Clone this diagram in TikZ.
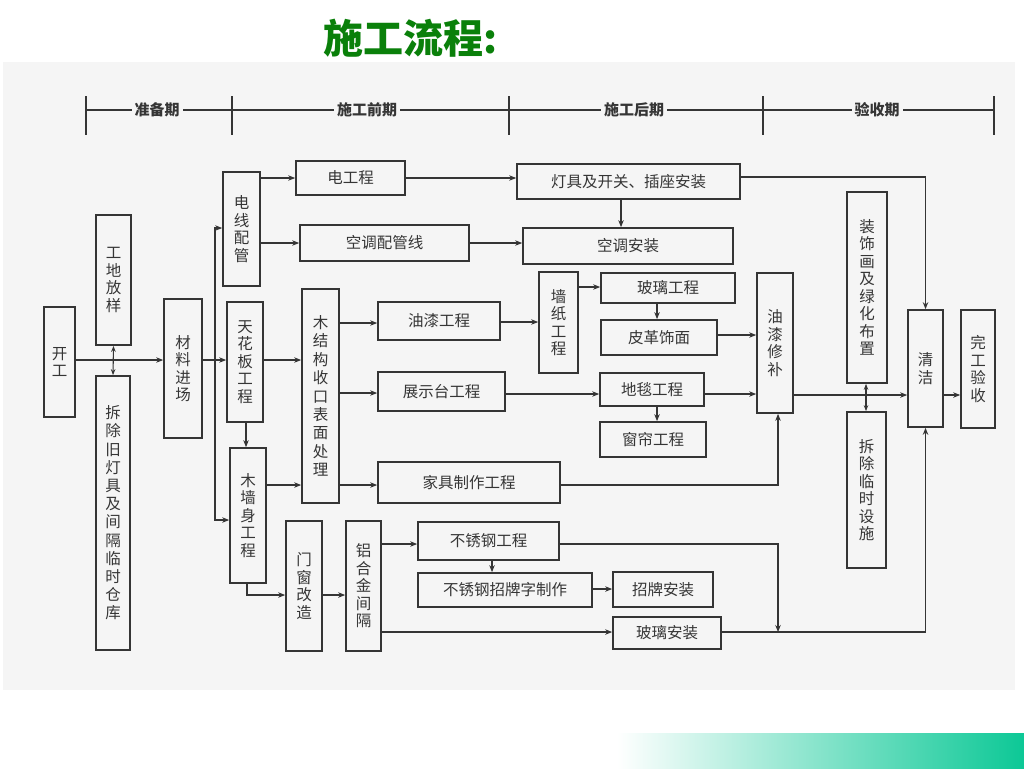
\documentclass[tikz,border=0pt]{standalone}
\usepackage{fontspec}
\setmainfont{Noto Sans CJK SC}
\usetikzlibrary{arrows.meta}
\definecolor{ink}{HTML}{353535}
\definecolor{paper}{HTML}{F5F5F5}
\definecolor{ttlgreen}{HTML}{0A800A}
\definecolor{barcol}{HTML}{0CC896}
\newcommand\bx[6]{\node[box,minimum width=#4-#2,minimum height=#5-#3] (#1) at ({(#2+#4)/2},{(#3+#5)/2}) {#6};}
\begin{document}
\begin{tikzpicture}[x=1pt,y=-1pt,
  box/.style={draw=ink,line width=1.7pt,inner sep=0pt,text=ink,align=center,font=\fontsize{15.5}{17.5}\selectfont},
  ln/.style={draw=ink,line width=1.1pt},
  arr/.style={ln,-{Stealth[length=7pt,width=5.5pt]}},
  dbl/.style={ln,{Stealth[length=6pt,width=4.5pt]}-{Stealth[length=6pt,width=4.5pt]}},
  phase/.style={fill=paper,inner sep=3pt,text=ink,font=\fontsize{15}{15}\selectfont\bfseries}]
\useasboundingbox (0,0) rectangle (1024,768);
\fill[white] (0,0) rectangle (1024,768);
\fill[paper] (3,62) rectangle (1015,690);
\shade[left color=white,right color=barcol] (617,733) rectangle (1024,768);
\node[anchor=base west,text=ttlgreen,font=\fontsize{40}{40}\selectfont\bfseries] (title) at (320,53) {施工流程:};
% phase header
\draw[ln,line width=1.3pt] (86,110) -- (994,110);
\foreach \x in {86,232,509,763,994} \draw[ln,line width=1.5pt] (\x,96) -- (\x,135);
\node[phase] (p1) at (157,110) {准备期};
\node[phase] (p2) at (367,110) {施工前期};
\node[phase] (p3) at (634,110) {施工后期};
\node[phase] (p4) at (877,110) {验收期};
% boxes
\bx{kg}{44}{307}{75}{417}{开\\工}
\bx{fy}{96}{215}{131}{345}{工\\地\\放\\样}
\node[box,minimum width=34,minimum height=274,font=\fontsize{15.5}{18.2}\selectfont] (cc) at (113,513) {拆\\除\\旧\\灯\\具\\及\\间\\隔\\临\\时\\仓\\库};
\bx{cl}{164}{299}{202}{438}{材\\料\\进\\场}
\bx{dx}{223}{172}{260}{286}{电\\线\\配\\管}
\bx{thb}{227}{302}{263}{422}{天\\花\\板\\工\\程}
\bx{mqs}{230}{448}{266}{583}{木\\墙\\身\\工\\程}
\node[box,minimum width=37,minimum height=214,font=\fontsize{15.5}{18.4}\selectfont] (mjg) at (320.5,396) {木\\结\\构\\收\\口\\表\\面\\处\\理};
\bx{mc}{286}{521}{322}{651}{门\\窗\\改\\造}
\bx{lh}{346}{521}{381}{651}{铝\\合\\金\\间\\隔}
\bx{dgc}{296}{161}{405}{195}{电工程}
\bx{kt}{300}{225}{469}{261}{空调配管线}
\bx{yq}{378}{302}{500}{340}{油漆工程}
\bx{zs}{378}{372}{505}{411}{展示台工程}
\bx{jj}{378}{462}{560}{503}{家具制作工程}
\bx{bxg}{418}{522}{559}{560}{不锈钢工程}
\bx{zpz}{418}{573}{592}{607}{不锈钢招牌字制作}
\bx{zpaz}{613}{572}{713}{607}{招牌安装}
\bx{blaz}{613}{617}{721}{649}{玻璃安装}
\bx{dj}{517}{164}{740}{199}{灯具及开关、插座安装}
\bx{ktaz}{523}{228}{733}{264}{空调安装}
\bx{qz}{539}{272}{578}{373}{墙\\纸\\工\\程}
\bx{bl}{601}{273}{735}{303}{玻璃工程}
\bx{pg}{601}{320}{717}{355}{皮革饰面}
\bx{dt}{600}{373}{704}{406}{地毯工程}
\bx{cl2}{600}{422}{706}{457}{窗帘工程}
\bx{yx}{757}{273}{793}{413}{油\\漆\\修\\补}
\bx{zsh}{847}{192}{887}{383}{装\\饰\\画\\及\\绿\\化\\布\\置}
\bx{cs}{847}{412}{886}{568}{拆\\除\\临\\时\\设\\施}
\bx{qj}{908}{310}{943}{427}{清\\洁}
\bx{wg}{961}{310}{995}{428}{完\\工\\验\\收}
% connectors
\coordinate (bus) at (215,360);
\coordinate (j1) at (778,632);
\draw[arr] (kg.east|-0,360) -- (cl.west|-0,360);
\draw[dbl] (fy.south) -- (cc.north);
\draw[arr] (cl.east|-0,360) -- (thb.west|-0,360);
\draw[arr] (bus) |- (dx.west|-0,228);
\draw[arr] (bus) |- (mqs.west|-0,520);
\draw[arr] (dx.east|-0,178) -- (dgc.west|-0,178);
\draw[arr] (dx.east|-0,243) -- (kt.west|-0,243);
\draw[arr] (dgc.east|-0,178) -- (dj.west|-0,178);
\draw[arr] (kt.east|-0,243) -- (ktaz.west|-0,243);
\draw[arr] (dj.south-|621,0) -- (ktaz.north-|621,0);
\draw[arr] (dj.east|-0,177) -| (qj.north);
\draw[arr] (thb.east|-0,360) -- (mjg.west|-0,360);
\draw[arr] (thb.south-|246,0) -- (mqs.north-|246,0);
\draw[arr] (mqs.east|-0,485) -- (mjg.west|-0,485);
\draw[arr] (mjg.east|-0,323) -- (yq.west|-0,323);
\draw[arr] (mjg.east|-0,393) -- (zs.west|-0,393);
\draw[arr] (mjg.east|-0,485) -- (jj.west|-0,485);
\draw[arr] (yq.east|-0,322) -- (qz.west|-0,322);
\draw[arr] (qz.east|-0,287) -- (bl.west|-0,287);
\draw[arr] (bl.south-|657,0) -- (pg.north-|657,0);
\draw[arr] (pg.east|-0,335) -- (yx.west|-0,335);
\draw[arr] (zs.east|-0,394) -- (dt.west|-0,394);
\draw[arr] (dt.east|-0,394) -- (yx.west|-0,394);
\draw[arr] (dt.south-|657,0) -- (cl2.north-|657,0);
\draw[arr] (jj.east|-0,485) -| (yx.south-|778,0);
\draw[arr] (yx.east|-0,395) -- (qj.west|-0,395);
\draw[dbl] (zsh.south-|866,0) -- (cs.north-|866,0);
\draw[arr] (qj.east|-0,395) -- (wg.west|-0,395);
\draw[arr] (mqs.south-|247,0) |- (mc.west|-0,595);
\draw[arr] (mc.east|-0,595) -- (lh.west|-0,595);
\draw[arr] (lh.east|-0,544) -- (bxg.west|-0,544);
\draw[arr] (lh.east|-0,632) -- (blaz.west|-0,632);
\draw[arr] (bxg.south-|492,0) -- (zpz.north-|492,0);
\draw[arr] (zpz.east|-0,589) -- (zpaz.west|-0,589);
\draw[arr] (bxg.east|-0,544) -| (j1);
\draw[arr] (blaz.east|-0,632) -| (qj.south);
\end{tikzpicture}
\end{document}
